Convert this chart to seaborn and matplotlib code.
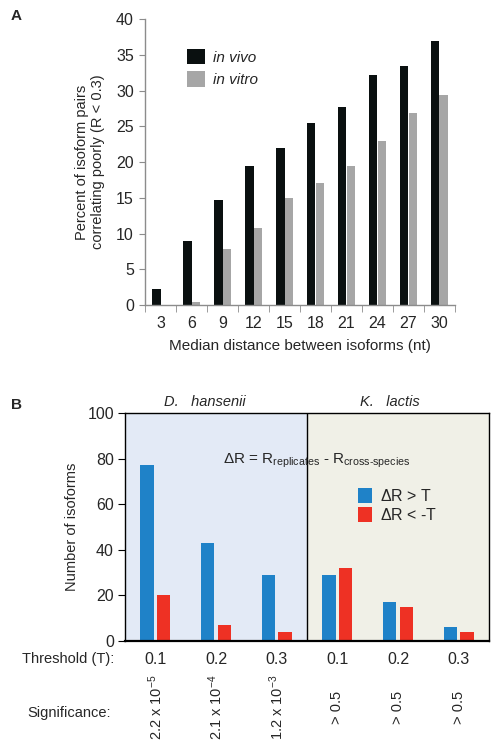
import pandas as pd
import numpy as np
import seaborn as sns
import matplotlib.pyplot as plt

# panel A data
distance = [3, 6, 9, 12, 15, 18, 21, 24, 27, 30]
in_vivo = [2.2, 8.9, 14.7, 19.5, 22.0, 25.5, 27.7, 32.2, 33.4, 36.9]
in_vitro = [0.0, 0.4, 7.8, 10.8, 14.9, 17.1, 19.4, 23.0, 26.8, 29.4]

# panel B data
thresholds = ['0.1', '0.2', '0.3', '0.1 ', '0.2 ', '0.3 ']
dr_up = [77, 43, 29, 29, 17, 6]
dr_down = [20, 7, 4, 32, 15, 4]
significance = [r'2.2 x 10$^{-5}$', r'2.1 x 10$^{-4}$', r'1.2 x 10$^{-3}$', '> 0.5', '> 0.5', '> 0.5']
species = ['D.   hansenii', 'K.   lactis']

sns.set_style('white')
plt.rcParams['font.family'] = ['Liberation Sans', 'DejaVu Sans']
plt.rcParams['mathtext.fontset'] = 'custom'
plt.rcParams['mathtext.rm'] = 'Liberation Sans'
plt.rcParams['mathtext.it'] = 'Liberation Sans:italic'

fig = plt.figure(figsize=(5, 7.5), dpi=100)
axA = fig.add_axes([0.29, 0.5933, 0.62, 0.3813])
axB = fig.add_axes([0.25, 0.1453, 0.728, 0.304])

######## panel A
df_a = pd.DataFrame({'distance': distance * 2,
                     'pct': in_vivo + in_vitro,
                     'cond': ['in vivo'] * len(distance) + ['in vitro'] * len(distance)})
sns.barplot(data=df_a, x='distance', y='pct', hue='cond', palette=['#0a1010', '#a6a6a6'],
            width=0.58, saturation=1, errorbar=None, linewidth=0, ax=axA)
gray = '#8c8c8c'
axA.set_ylim(0, 40)
axA.set_xlim(-0.5, 9.5)
axA.set_yticks(range(0, 41, 5))
for s in ['top', 'right']:
    axA.spines[s].set_visible(False)
for s in ['left', 'bottom']:
    axA.spines[s].set_color(gray)
    axA.spines[s].set_linewidth(1)
axA.set_xticks(np.arange(-0.5, 10, 1), minor=True)
axA.tick_params(axis='x', which='major', length=0, pad=8, labelsize=11.5)
axA.tick_params(axis='x', which='minor', length=5, color=gray, direction='out', bottom=True)
axA.tick_params(axis='y', length=4, color=gray, direction='out', left=True, pad=4, labelsize=11.5)
axA.set_xlabel('Median distance between isoforms (nt)', fontsize=11, labelpad=6)
axA.set_ylabel('Percent of isoform pairs\ncorrelating poorly (R < 0.3)', fontsize=10.5, labelpad=8)
axA.legend(loc='upper left', bbox_to_anchor=(0.09, 0.945), frameon=False,
           prop={'style': 'italic', 'size': 11}, handlelength=1.2, handleheight=1.2,
           labelspacing=0.45, handletextpad=0.55)
fig.text(0.022, 0.978, 'A', fontsize=11, fontweight='bold', va='center')

######## panel B
df_b = pd.DataFrame({'thr': thresholds * 2,
                     'n': dr_up + dr_down,
                     'dir': [r'$\Delta$R > T'] * 6 + [r'$\Delta$R < -T'] * 6})
axB.axvspan(-0.5, 2.5, color='#e3eaf6', zorder=0)
axB.axvspan(2.5, 5.5, color='#f0f0e7', zorder=0)
sns.barplot(data=df_b, x='thr', y='n', hue='dir', palette=['#1f82c8', '#ee3124'],
            width=0.55, gap=0.2, saturation=1, errorbar=None, linewidth=0, ax=axB, zorder=2)
axB.axvline(2.5, color='k', lw=1, zorder=3)
axB.set_xlim(-0.5, 5.5)
axB.set_ylim(0, 100)
axB.set_yticks(range(0, 101, 20))
for s in axB.spines.values():
    s.set_color('k')
    s.set_linewidth(1)
axB.spines['bottom'].set_linewidth(1.6)
axB.set_xticks(range(6))
axB.set_xticklabels([t.strip() for t in thresholds])
axB.tick_params(axis='x', length=0, pad=8, labelsize=11.5)
axB.tick_params(axis='y', length=5, color='k', direction='out', left=True, pad=3, labelsize=11.5)
axB.set_xlabel('')
axB.set_ylabel('Number of isoforms', fontsize=10.5, labelpad=6)
axB.legend(loc='upper left', bbox_to_anchor=(0.6, 0.735), frameon=False, fontsize=11.5,
           handlelength=0.9, handleheight=1.1, labelspacing=0.2, handletextpad=0.5)

for i, lab in enumerate(significance):
    axB.text(i, -0.29, lab, rotation=90, ha='center', va='center', fontsize=10.5,
             transform=axB.get_xaxis_transform())

axB.text(0.27, 0.79, r'$\Delta$R = R$_{\mathregular{replicates}}$ - R$_{\mathregular{cross\text{-}species}}$',
         transform=axB.transAxes, fontsize=11, va='center', zorder=4)

fig.text(205 / 500, 1 - 402 / 750, species[0], style='italic', fontsize=10.5, ha='center', va='center')
fig.text(390 / 500, 1 - 402 / 750, species[1], style='italic', fontsize=10.5, ha='center', va='center')
fig.text(22 / 500, 1 - 659 / 750, 'Threshold (T):', fontsize=10.5, va='center')
fig.text(27 / 500, 1 - 713 / 750, 'Significance:', fontsize=10.5, va='center')
fig.text(0.022, 1 - 405 / 750, 'B', fontsize=11, fontweight='bold', va='center')

fig.savefig('out.png', dpi=100)
